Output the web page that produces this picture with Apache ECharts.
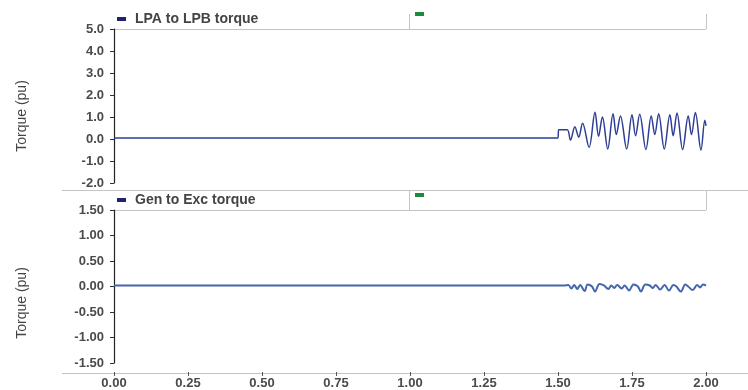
<!DOCTYPE html>
<html>
<head>
<meta charset="utf-8">
<script src="https://cdn.jsdelivr.net/npm/echarts@6/dist/echarts.min.js"></script>
<style>html,body{margin:0;padding:0;background:#fff}#c{width:748px;height:390px}</style>
</head>
<body>
<div id="c"></div>
<script>
// ---- data ----
var xTicks = { min: 0, max: 2, interval: 0.25 };
var topName = 'LPA to LPB torque';
var bottomName = 'Gen to Exc torque';
var yTitle = 'Torque (pu)';
var topRange = { min: -2, max: 5, interval: 1 };
var bottomRange = { min: -1.5, max: 1.5, interval: 0.5 };

var topSeries = [
  [0, 0.05], [1.5, 0.05], [1.502, 0.42], [1.531, 0.42],
  [1.542, -0.05], [1.557, 0.56], [1.570, 0.08], [1.583, 0.72],
  [1.605, -0.38], [1.625, 1.22], [1.637, 0.12], [1.650, 1.0],
  [1.668, -0.45], [1.686, 1.15], [1.697, 0.2], [1.711, 1.05],
  [1.732, -0.45], [1.750, 1.1], [1.762, 0.15], [1.776, 1.12],
  [1.797, -0.48], [1.815, 1.05], [1.827, 0.2], [1.840, 1.15],
  [1.859, -0.45], [1.878, 1.1], [1.889, 0.15], [1.902, 1.18],
  [1.921, -0.48], [1.940, 1.05], [1.951, 0.2], [1.964, 1.2],
  [1.983, -0.5], [1.996, 0.85], [2.0, 0.6]
];

var bottomSeries = [
  [0, 0.02], [1.52, 0.02], [1.535, 0.03], [1.545, -0.04], [1.555, 0.03],
  [1.565, -0.05], [1.575, 0.03], [1.59, -0.09], [1.60, 0.04], [1.615, 0.0],
  [1.625, -0.1], [1.64, 0.05], [1.655, 0.02], [1.67, -0.05], [1.68, 0.02],
  [1.69, -0.03], [1.70, 0.03], [1.715, -0.04], [1.725, 0.02], [1.74, -0.08],
  [1.755, 0.04], [1.77, 0.0], [1.78, -0.1], [1.795, 0.04], [1.81, 0.02],
  [1.82, -0.03], [1.83, 0.03], [1.845, -0.06], [1.86, 0.03], [1.875, -0.08],
  [1.89, 0.03], [1.9, 0.0], [1.915, -0.1], [1.93, 0.04], [1.94, 0.0],
  [1.955, -0.07], [1.97, 0.03], [1.98, -0.02], [1.99, 0.04], [2.0, 0.02]
];

// ---- chart ----
var chart = echarts.init(document.getElementById('c'), null, { renderer: 'canvas' });
var FONT = 'Liberation Sans, Arial, sans-serif';
var lbl = { fontFamily: FONT, fontSize: 13, fontWeight: 'bold', color: '#4a4a4a' };
var gray = '#c4c4c4';

function yAx(idx, r, dec) {
  return {
    type: 'value', gridIndex: idx, min: r.min, max: r.max, interval: r.interval,
    axisLine: { show: true, onZero: false, lineStyle: { color: '#222', width: 1.2 } },
    axisTick: { show: true, inside: false, length: 4, lineStyle: { color: '#333' } },
    axisLabel: Object.assign({ margin: 10, formatter: function (v) { return v.toFixed(dec); } }, lbl),
    splitLine: { show: false }
  };
}
function legend(name, left, top) {
  return {
    data: [name], left: left, top: top, padding: 0, icon: 'rect',
    itemWidth: 9, itemHeight: 4, itemGap: 6, selectedMode: false,
    textStyle: { fontFamily: FONT, fontSize: 14, fontWeight: 'bold', color: '#444', padding: [0, 0, 0, 4] }
  };
}
function line(x1, y1, x2, y2) {
  return { type: 'line', silent: true, shape: { x1: x1, y1: y1, x2: x2, y2: y2 }, style: { stroke: gray, lineWidth: 1 } };
}
function ytitle(y) {
  return { type: 'text', x: 22, y: y, rotation: Math.PI / 2,
    style: { text: yTitle, fontFamily: FONT, fontSize: 14, fill: '#444', align: 'center', verticalAlign: 'middle' } };
}

chart.setOption({
  animation: false,
  backgroundColor: '#fff',
  grid: [
    { left: 114, right: 42, top: 29, height: 154 },
    { left: 114, right: 42, top: 210, height: 154 }
  ],
  xAxis: [
    { type: 'value', gridIndex: 0, min: xTicks.min, max: xTicks.max, interval: xTicks.interval, show: false },
    { type: 'value', gridIndex: 1, min: xTicks.min, max: xTicks.max, interval: xTicks.interval,
      offset: 9,
      axisLine: { show: false, onZero: false },
      axisTick: { show: true, length: 4, lineStyle: { color: '#555' } },
      axisLabel: Object.assign({ margin: 5, formatter: function (v) { return v.toFixed(2); } }, lbl),
      splitLine: { show: false } }
  ],
  yAxis: [yAx(0, topRange, 1), yAx(1, bottomRange, 2)],
  legend: [
    legend(topName, 117, 12),
    legend('\u00a0', 415, 7),
    legend(bottomName, 117, 193),
    legend('\u00a0\u00a0', 415, 188)
  ],
  series: [
    { name: topName, type: 'line', xAxisIndex: 0, yAxisIndex: 0, data: topSeries, showSymbol: false,
      smooth: 0.35, color: '#1f2270', lineStyle: { color: '#2d3e94', width: 1.5 } },
    { name: '\u00a0', type: 'line', xAxisIndex: 0, yAxisIndex: 0, data: [], color: '#1e8a3c' },
    { name: bottomName, type: 'line', xAxisIndex: 1, yAxisIndex: 1, data: bottomSeries, showSymbol: false,
      smooth: 0.35, color: '#1f2270', lineStyle: { color: '#4565ac', width: 2 } },
    { name: '\u00a0\u00a0', type: 'line', xAxisIndex: 1, yAxisIndex: 1, data: [], color: '#1e8a3c' }
  ],
  graphic: [
    line(114, 29.5, 706, 29.5),
    line(409.5, 14, 409.5, 29), line(706.5, 14, 706.5, 29),
    line(62, 190.5, 748, 190.5),
    line(114, 210.5, 706, 210.5),
    line(409.5, 190, 409.5, 210), line(706.5, 190, 706.5, 210),
    line(62, 373.5, 748, 373.5),
    ytitle(116), ytitle(303)
  ]
});
</script>
</body>
</html>
